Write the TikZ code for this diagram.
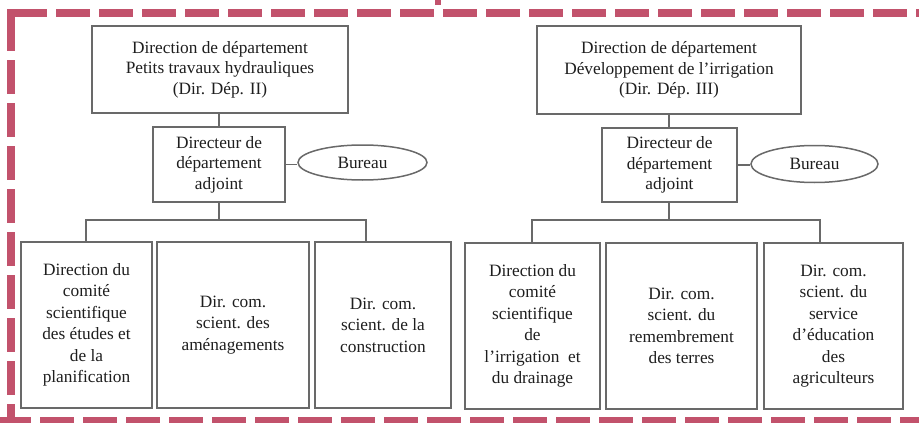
\documentclass[tikz,border=0pt]{standalone}
\usepackage{fontspec}
\setmainfont{Liberation Serif}
\usetikzlibrary{shapes.geometric}
\definecolor{frame}{RGB}{194,82,108}
\definecolor{boxline}{RGB}{105,105,105}
\definecolor{txt}{RGB}{30,30,30}
\tikzset{
  orgbox/.style={draw=boxline, line width=1.5pt, rectangle, align=center, text=txt,
    inner sep=0pt, font=\fontsize{17.3}{20.5}\selectfont},
  lowbox/.style={orgbox, font=\fontsize{17.3}{21.5}\selectfont},
  bureau/.style={draw=boxline, line width=1.5pt, ellipse, inner sep=0pt, text=txt,
    font=\fontsize{17.3}{20}\selectfont},
  conn/.style={draw=boxline, line width=1.5pt},
  border/.style={draw=frame, line width=8pt, dash pattern=on 34pt off 9pt}
}
\begin{document}
\begin{tikzpicture}[x=1pt,y=-1pt]
\useasboundingbox (0,0) rectangle (919,423);
\fill[white] (0,0) rectangle (919,423);
\begin{scope}
\clip (0,0) rectangle (919,423);
\draw[border] (13,13) -- (935,13);
\draw[border] (10.5,17) -- (10.5,420);
\fill[frame] (6.5,9) rectangle (14.5,17);
\draw[border] (-3,421) -- (935,421);
\fill[frame] (435,0) rectangle (441,5);
\end{scope}

% left department
\node[orgbox, minimum width=256pt, minimum height=87pt] (ltop) at (220,69.5)
  {Direction de département\\Petits travaux hydrauliques\\(Dir. Dép. II)};
\node[orgbox, minimum width=132pt, minimum height=75pt] (lmid) at (219,164.5)
  {Directeur de\\département\\adjoint};
\node[bureau, minimum width=129pt, minimum height=35pt] (lbur) at (362.5,162.5) {Bureau};
\node[lowbox, minimum width=131pt, minimum height=166pt] (l1) at (86.5,325)
  {Direction du\\comité\\scientifique\\des études et\\de la\\planification};
\node[lowbox, minimum width=152pt, minimum height=166pt] (l2) at (233,325)
  {Dir. com.\\scient. des\\aménagements};
\node[lowbox, minimum width=136pt, minimum height=166pt] (l3) at (383,325)
  {Dir. com.\\scient. de la\\construction};
\coordinate (lbus) at (219,220);
\draw[conn] (ltop.south -| lmid.north) -- (lmid.north);
\draw[conn] (lmid.east) -- (lmid.east -| lbur.west);
\draw[conn] (lmid.south) -- (lbus);
\draw[conn] (l1.north -| 86,0) |- (lbus) -| (l3.north -| 366,0);

% right department
\node[orgbox, minimum width=264pt, minimum height=88pt] (rtop) at (669,70)
  {Direction de département\\Développement de l'irrigation\\(Dir. Dép. III)};
\node[orgbox, minimum width=135pt, minimum height=74pt] (rmid) at (669.5,165)
  {Directeur de\\département\\adjoint};
\node[bureau, minimum width=127pt, minimum height=37pt] (rbur) at (814.5,164) {Bureau};
\node[lowbox, minimum width=135pt, minimum height=166pt] (r1) at (532.5,326)
  {Direction du\\comité\\scientifique\\de\\l'irrigation\ \ et\\du drainage};
\node[lowbox, minimum width=151pt, minimum height=166pt] (r2) at (681.5,326)
  {Dir. com.\\scient. du\\remembrement\\des terres};
\node[lowbox, minimum width=139pt, minimum height=166pt] (r3) at (833.5,326)
  {Dir. com.\\scient. du\\service\\d'éducation\\des\\agriculteurs};
\coordinate (rbus) at (669,220);
\draw[conn] (rtop.south -| 669,0) -- (rmid.north -| 669,0);
\draw[conn] (rmid.east) -- (rmid.east -| rbur.west);
\draw[conn] (rmid.south -| 669,0) -- (rbus);
\draw[conn] (r1.north -| 532,0) |- (rbus) -| (r3.north -| 820,0);
\end{tikzpicture}
\end{document}
